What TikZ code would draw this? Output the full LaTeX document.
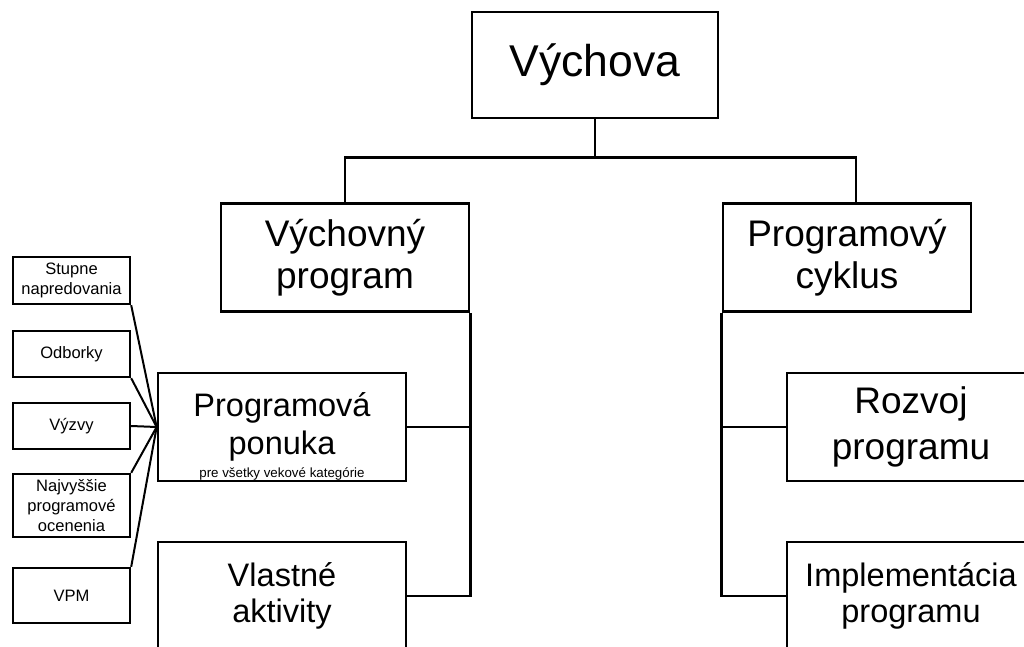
\documentclass[tikz,border=0pt]{standalone}
\usepackage{fontspec}
\setmainfont{Liberation Sans}

\begin{document}
\begin{tikzpicture}[x=0.75pt,y=0.75pt,yscale=-1,xscale=1,
	box/.style={draw, line width=2pt, align=center, inner sep=0pt, minimum width=186pt, minimum height=81pt},
	bigtext/.style={font=\fontsize{27.75}{31.5}\selectfont},
	midtext/.style={font=\fontsize{24.4}{28.5}\selectfont},
	smallbox/.style={draw, line width=1.8pt, align=center, inner sep=0pt, minimum width=87.75pt, font=\fontsize{12.4}{15}\selectfont},
	link/.style={line width=2pt},
	thinlink/.style={line width=1.5pt}]
	%set diagram frame to 1024 x 646, boxes at the edges are cut off
	\useasboundingbox (0,0) rectangle (1024,646);
	\clip (0,0) rectangle (1024,646);
	
	%Top box
	\node [box, minimum width=184.5pt, minimum height=79.5pt, font=\fontsize{33.4}{38}\selectfont] (vychova) at (595,65) {Výchova};
	
	%Second level
	\node [box, bigtext] (vprogram) at (345,257.5) {Výchovný\\program};
	\node [box, bigtext] (pcyklus) at (847,257.5) {Programový\\cyklus};
	
	%Third level, left
	\node [box, midtext] (ponuka) at (282,427) {Programová\\ponuka};
	\node [anchor=south, inner sep=1.5pt, font=\fontsize{10}{11}\selectfont] (ponukanote) at (ponuka.south) {pre všetky vekové kategórie};
	\node [box, midtext, font=\fontsize{24.4}{27}\selectfont] (aktivity) at (282,596) {Vlastné\\aktivity};
	
	%Third level, right
	\node [box, bigtext, font=\fontsize{27.75}{35}\selectfont] (rozvoj) at (911,427) {Rozvoj\\programu};
	\node [box, midtext, font=\fontsize{24.4}{27}\selectfont] (implementacia) at (911,596) {Implementácia\\programu};
	
	%Small boxes
	\node [smallbox, minimum height=35.25pt] (stupne) at (71.5,280.5) {Stupne\\napredovania};
	\node [smallbox, minimum height=34.5pt] (odborky) at (71.5,354) {Odborky};
	\node [smallbox, minimum height=34.5pt] (vyzvy) at (71.5,426) {Výzvy};
	\node [smallbox, minimum height=47.25pt] (najvyssie) at (71.5,505.5) {Najvyššie\\programové\\ocenenia};
	\node [smallbox, minimum height=41.25pt] (vpm) at (71.5,595.5) {VPM};
	
	%Tree lines
	\draw [link] (vychova.south) -- ++(0,38) coordinate (bar);
	\draw [link] (vprogram.north) |- (bar) -| ([xshift=6.75pt]pcyklus.north);
	\draw [link] (ponuka.east) -- (ponuka.east -| vprogram.south east);
	\draw [link] (vprogram.south east) |- (aktivity.east);
	\draw [link] (rozvoj.west) -- (rozvoj.west -| pcyklus.south west);
	\draw [link] (pcyklus.south west) |- (implementacia.west);
	
	%Fan of lines into Programova ponuka
	\draw [thinlink] (stupne.south east) -- (ponuka.west);
	\draw [thinlink] (odborky.south east) -- (ponuka.west);
	\draw [thinlink] (vyzvy.east) -- (ponuka.west);
	\draw [thinlink] (najvyssie.north east) -- (ponuka.west);
	\draw [thinlink] (vpm.north east) -- (ponuka.west);
	
\end{tikzpicture}
\end{document}
